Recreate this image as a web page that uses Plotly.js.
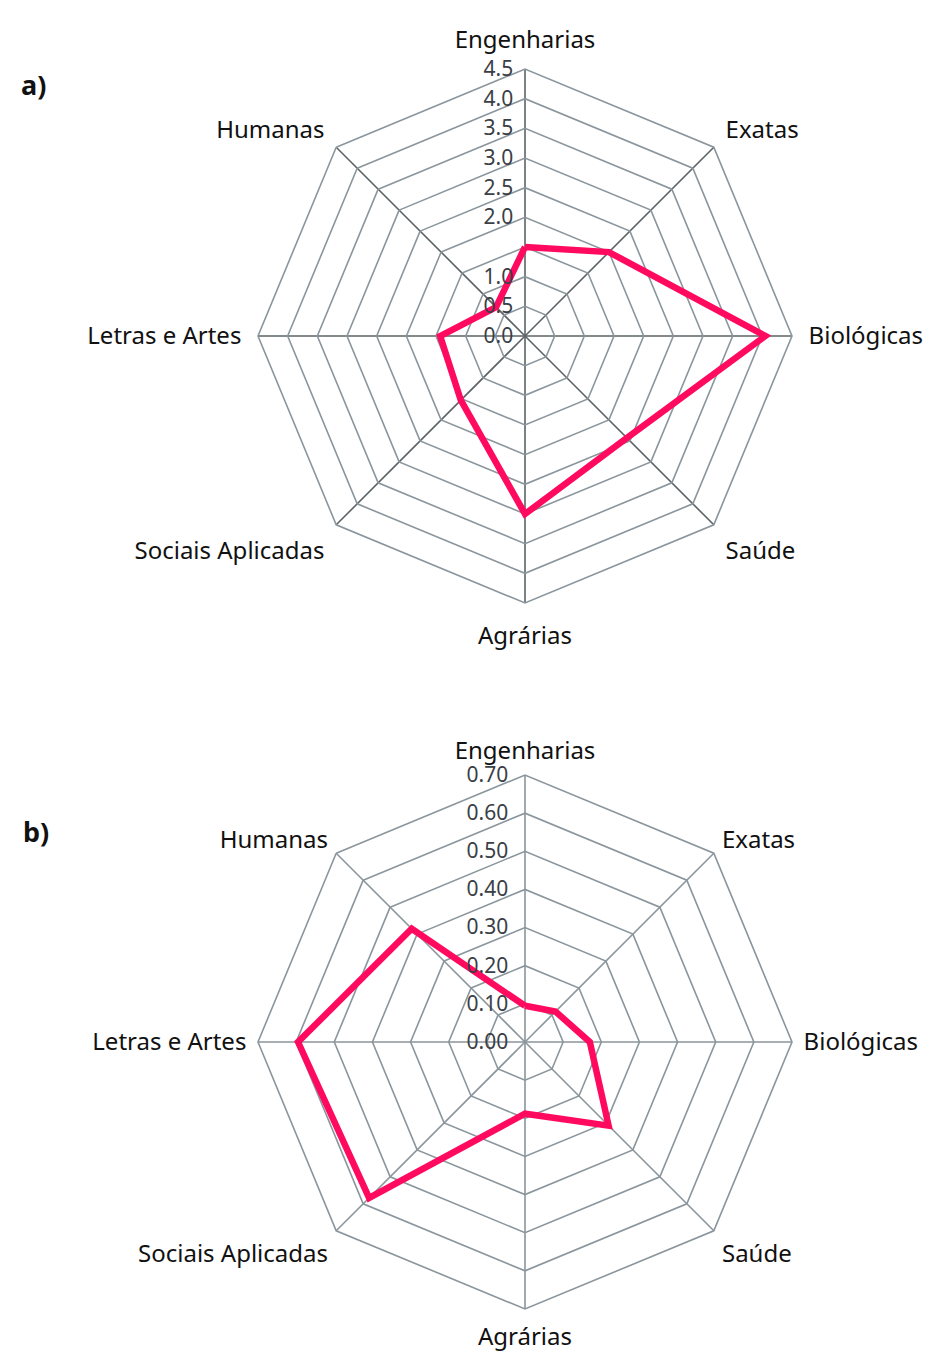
<!DOCTYPE html>
<html>
<head>
<meta charset="utf-8">
<script src="https://cdn.plot.ly/plotly-3.0.1.min.js"></script>
<style>html,body{margin:0;padding:0;background:#fff;}#chart{width:933px;height:1354px;}</style>
</head>
<body>
<div id="chart"></div>
<script>
const categories = ["Engenharias", "Exatas", "Biológicas", "Saúde", "Agrárias", "Sociais Aplicadas", "Letras e Artes", "Humanas"];
const valuesA = [1.5, 2.0, 4.05, 2.43, 3.0, 1.53, 1.43, 0.69];
const valuesB = [0.095, 0.113, 0.17, 0.31, 0.188, 0.578, 0.595, 0.42];
const tickValsA = [0, 0.5, 1.0, 1.5, 2.0, 2.5, 3.0, 3.5, 4.0, 4.5];
const tickTextA = ["0.0", "0.5", "1.0", "", "2.0", "2.5", "3.0", "3.5", "4.0", "4.5"];
const tickValsB = [0, 0.1, 0.2, 0.3, 0.4, 0.5, 0.6, 0.7];
const tickTextB = ["0.00", "0.10", "0.20", "0.30", "0.40", "0.50", "0.60", "0.70"];
const panelLabels = ["a)", "b)"];

const close = a => a.concat([a[0]]);
const lineColor = "#ff0a5f";
const ringColor = "#8a959c";
const spokeDark = "#5b6366";
const FONT = "Noto Sans, sans-serif";

function trace(vals, sub) {
  return {
    type: "scatterpolar",
    r: close(vals),
    theta: close(categories),
    subplot: sub,
    mode: "lines",
    line: {color: lineColor, width: 6.5},
    hoverinfo: "skip",
    showlegend: false
  };
}

function polar(domainY, range, tv, tt, spokeColor, rtl, atl) {
  return {
    domain: {x: [258/933, 792/933], y: domainY},
    gridshape: "linear",
    bgcolor: "rgba(0,0,0,0)",
    radialaxis: {
      range: range,
      tickvals: tv,
      ticktext: tt,
      angle: 90,
      tickangle: 90,
      side: "counterclockwise",
      showline: false,
      ticks: "outside",
      ticklen: rtl,
      tickcolor: "rgba(0,0,0,0)",
      gridcolor: ringColor,
      gridwidth: 1.6,
      tickfont: {family: FONT, size: 21, color: "#3a4046"}
    },
    angularaxis: {
      direction: "clockwise",
      rotation: 90,
      showline: true,
      linecolor: ringColor,
      linewidth: 1.6,
      gridcolor: spokeColor,
      gridwidth: 1.6,
      ticks: "outside",
      ticklen: atl,
      tickcolor: "rgba(0,0,0,0)",
      tickfont: {family: FONT, size: 24, color: "#111"}
    }
  };
}

const layout = {
  width: 933,
  height: 1354,
  margin: {l: 0, r: 0, t: 0, b: 0},
  paper_bgcolor: "#fff",
  showlegend: false,
  polar: polar([751/1354, 1285/1354], [0, 4.5], tickValsA, tickTextA, spokeDark, 4, 11),
  polar2: polar([45/1354, 579/1354], [0, 0.7], tickValsB, tickTextB, ringColor, 9, 6),
  annotations: [
    {text: "<b>" + panelLabels[0] + "</b>", x: 33/933, y: 1 - 84/1354, xref: "paper", yref: "paper", xanchor: "center", yanchor: "middle", showarrow: false, font: {family: FONT, size: 27, color: "#111"}},
    {text: "<b>" + panelLabels[1] + "</b>", x: 36/933, y: 1 - 831/1354, xref: "paper", yref: "paper", xanchor: "center", yanchor: "middle", showarrow: false, font: {family: FONT, size: 27, color: "#111"}}
  ]
};

Plotly.newPlot("chart", [trace(valuesA, "polar"), trace(valuesB, "polar2")], layout, {staticPlot: true});
</script>
</body>
</html>
